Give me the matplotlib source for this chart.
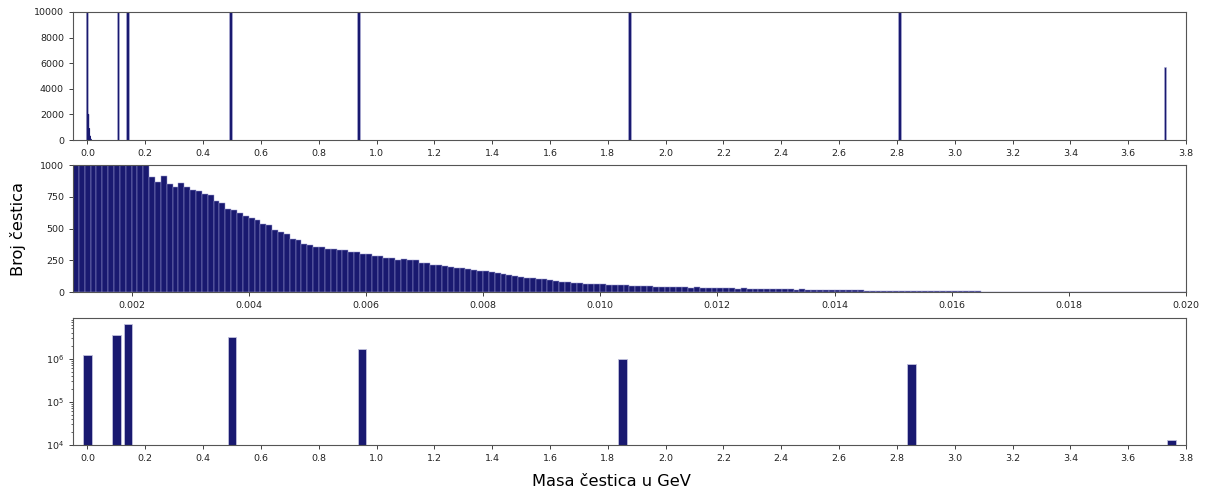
# plot.py
# Raspodjela masa čestica: pregled, uvećanje oko nule i logaritamski prikaz.

import numpy as np
import matplotlib
matplotlib.use("Agg")
import matplotlib.pyplot as plt
from matplotlib.ticker import MultipleLocator

# --- podaci (očitani sa slike) ---

# gornji panel: vrhovi masa (GeV) i broj čestica
top_peaks = [0.1057, 0.1396, 0.4937, 0.9383, 1.8756, 2.8089, 3.7274]
top_counts = [150000, 270000, 140000, 72000, 42000, 31000, 5700]
# raspodjela blizu nule (vrh u nuli i rep)
top_tail_x = [0.0, 0.003, 0.006, 0.009, 0.012]
top_tail_counts = [52000, 2000, 900, 300, 60]

# srednji panel: histogram od 0.001 do 0.020 GeV, korak 0.0001
mid_start = 0.001
mid_step = 0.0001
mid_counts = [
    1900, 1820, 1760, 1690, 1620, 1560, 1480, 1420, 1350, 1280, 1200, 1120, 1010,
    905, 870, 915, 850, 830, 855, 825,
    805, 795, 770, 765, 715, 700, 655, 645, 625, 600,
    585, 565, 540, 525, 490, 470, 455, 420, 410, 380,
    368, 352, 355, 343, 340, 330, 330, 318, 314, 302,
    300, 288, 285, 272, 268, 256, 259, 252, 250, 232,
    228, 215, 214, 205, 202, 190, 190, 180, 178, 168,
    166, 156, 152, 141, 138, 128, 124, 114, 112, 102,
    101, 93, 90, 82, 81, 74, 73, 67, 67, 62,
    62, 58, 59, 54, 55, 50, 52, 47, 48, 44,
    45, 42, 43, 40, 40, 37, 38, 35, 36, 33,
    34, 31, 32, 29, 30, 28, 28, 26, 27, 24,
    25, 23, 23, 21, 22, 20, 20, 18, 19, 17,
    17, 16, 16, 15, 15, 14, 14, 13, 13, 12,
    12, 11, 11, 10, 10, 10, 9, 9, 9, 8,
    8, 8, 7, 7, 7, 6, 6, 6, 6, 5,
    5, 5, 5, 5, 4, 4, 4, 4, 4, 3,
    3, 3, 3, 3, 3, 2, 2, 2, 2, 2,
    2, 2, 1, 1, 1, 1, 1, 1, 1, 1,
]

# donji panel: ukupni broj čestica po vrsti (log skala)
bot_mass = [0.0, 0.1, 0.14, 0.5, 0.95, 1.85, 2.85, 3.75]
bot_counts = [1.22e6, 3.5e6, 6.3e6, 3.25e6, 1.65e6, 9.7e5, 7.4e5, 1.29e4]

# --- stil ---
boja = "#191970"
tick_fs = 6.8
label_fs = 11.7
spine_c = "#555555"

fig = plt.figure(figsize=(12.08, 4.93), dpi=100)
L, W = 0.0604, 0.9214
ax1 = fig.add_axes([L, 0.716, W, 0.2597])
ax2 = fig.add_axes([L, 0.4071, W, 0.2582])
ax3 = fig.add_axes([L, 0.0974, W, 0.257])

for ax in (ax1, ax2, ax3):
    ax.tick_params(labelsize=tick_fs, length=3, width=0.6, colors="#222222")
    for s in ax.spines.values():
        s.set_color(spine_c)
        s.set_linewidth(0.8)

# 1) pregled
ax1.bar(top_tail_x, top_tail_counts, width=0.003, color=boja,
        edgecolor=boja, linewidth=0.7, snap=False)
ax1.bar(top_peaks, top_counts, width=0.01, color=boja,
        edgecolor="#b4b4da", linewidth=0.4)
ax1.set_xlim(-0.05, 3.8)
ax1.set_ylim(0, 10000)
ax1.xaxis.set_major_locator(MultipleLocator(0.2))
ax1.yaxis.set_major_locator(MultipleLocator(2000))

# 2) uvećanje blizu nule
mid_x = mid_start + mid_step * np.arange(len(mid_counts))
ax2.bar(mid_x, mid_counts, width=mid_step, align="edge", color=boja,
        edgecolor="#9a9ad0", linewidth=0.35)
ax2.set_xlim(0.001, 0.020)
ax2.set_ylim(0, 1000)
ax2.xaxis.set_major_locator(MultipleLocator(0.002))
ax2.yaxis.set_major_locator(MultipleLocator(250))

# 3) logaritamski prikaz
ax3.bar(bot_mass, bot_counts, width=0.03, color=boja,
        edgecolor="#c0c0dd", linewidth=0.6)
ax3.set_yscale("log")
ax3.set_xlim(-0.05, 3.8)
ax3.set_ylim(1e4, 8.6e6)
ax3.xaxis.set_major_locator(MultipleLocator(0.2))
ax3.tick_params(which="minor", length=1.8, width=0.5, colors="#222222")

fig.text(0.0149, 0.5355, "Broj čestica", rotation=90, ha="center",
         va="center", fontsize=label_fs)
fig.text(0.506, 0.0243, "Masa čestica u GeV", ha="center", va="center",
         fontsize=label_fs)

fig.savefig("out.png", dpi=100)
